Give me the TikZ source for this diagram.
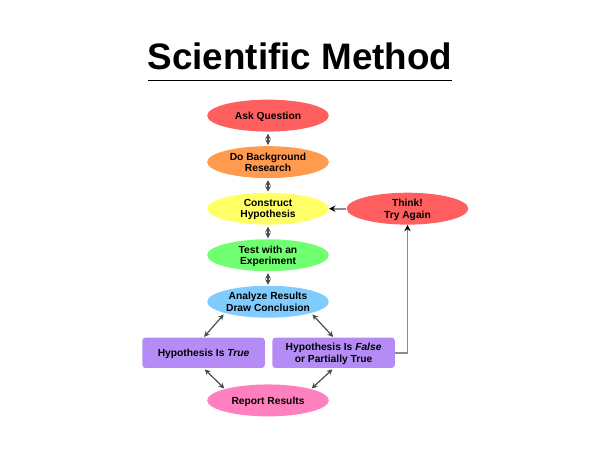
\documentclass[tikz,border=0pt]{standalone}
\usepackage{fontspec}
\setmainfont{Liberation Sans}
\usetikzlibrary{shapes.geometric,positioning,arrows.meta}

\definecolor{askred}{HTML}{FF5F5F}
\definecolor{bgorange}{HTML}{FF9A4F}
\definecolor{hypyellow}{HTML}{FFFF66}
\definecolor{testgreen}{HTML}{70FF70}
\definecolor{anablue}{HTML}{80CCFF}
\definecolor{boxpurple}{HTML}{B58CF5}
\definecolor{reppink}{HTML}{FF80BF}

\tikzset{
    stage/.style={ellipse, minimum width=86.5pt, minimum height=22.7pt, inner sep=0pt,
        align=center, text depth=0pt, font=\fontsize{7.3}{8.1}\selectfont\bfseries},
    result/.style={rectangle, rounded corners=2pt, minimum width=87pt, minimum height=21.5pt,
        inner sep=0pt, align=center, text depth=0pt, fill=boxpurple, font=\fontsize{7.3}{8.1}\selectfont\bfseries},
    both/.style={{Stealth[length=4pt,width=4pt]}-{Stealth[length=4pt,width=4pt]}, line width=0.85pt,
        black!70, shorten >=0.5pt, shorten <=1.2pt},
    back/.style={-{Stealth[length=4.5pt,width=4.5pt,black]}, line width=1.2pt, black!45}
}

\begin{document}
\begin{tikzpicture}[node distance=33.1pt]
    \useasboundingbox (0,0) rectangle (15,-11.25);

    \node (title) at (7.5,-1.42) {\fontsize{26.2}{30}\selectfont\bfseries Scientific Method};
    \coordinate (ruleL) at (3.7,-2);
    \coordinate (ruleR) at (11.3,-2);
    \draw[line width=0.6pt] (ruleL) -- (ruleR);

    \node[stage, fill=askred] (ask) at (6.7,-2.89) {Ask Question};
    \node[stage, fill=bgorange] (research) [below of=ask] {Do Background\\Research};
    \node[stage, fill=hypyellow] (hypothesis) [below of=research] {Construct\\Hypothesis};
    \node[stage, fill=testgreen] (test) [below of=hypothesis] {Test with an\\Experiment};
    \node[stage, fill=anablue] (analyze) [below of=test] {Analyze Results\\Draw Conclusion};
    \node[stage, fill=askred] (think) [right of=hypothesis, node distance=99.2pt] {Think!\\Try Again};

    \node[result] (true) at (5.09,-8.82) {Hypothesis Is \textit{True}};
    \node[result] (false) at (8.34,-8.82) {Hypothesis Is \textit{False}\\or Partially True};
    \node[stage, fill=reppink] (report) at (6.7,-10.01) {Report Results};

    \draw[both] (ask) -- (research);
    \draw[both] (research) -- (hypothesis);
    \draw[both] (hypothesis) -- (test);
    \draw[both] (test) -- (analyze);
    \draw[both] (analyze.south west) -- (true.north);
    \draw[both] (analyze.south east) -- (false.north);
    \draw[both] (true.south) -- (report.north west);
    \draw[both] (false.south) -- (report.north east);

    \draw[back] (false.east) -| (think.south);
    \draw[back] (think) -- (hypothesis);
\end{tikzpicture}
\end{document}
